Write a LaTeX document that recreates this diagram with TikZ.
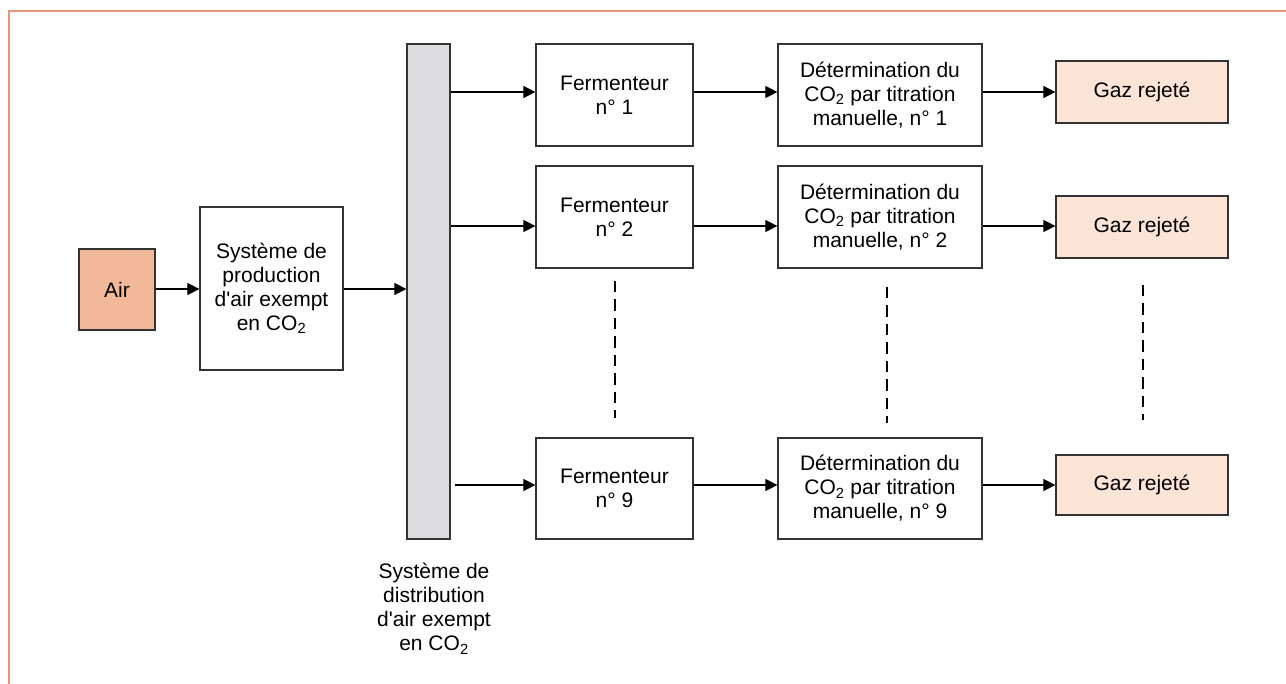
\documentclass[tikz,border=0pt]{standalone}
\usepackage{fontspec}
\setmainfont[Ligatures=TeXOff]{Liberation Sans}
\usetikzlibrary{arrows.meta}
\definecolor{frameC}{HTML}{E9967C}
\definecolor{airC}{HTML}{F2B89A}
\definecolor{gazC}{HTML}{FCE4D6}
\definecolor{barC}{HTML}{DCDCDE}
\definecolor{lineC}{HTML}{333333}
\tikzset{
  box/.style={draw=lineC, line width=1.2pt, fill=white, align=center, inner sep=0pt,
    font=\fontsize{21}{24}\selectfont},
  arr/.style={draw=black, line width=1.1pt, -{Triangle[length=12pt,width=12pt]}},
  dots/.style={draw=black, line width=2pt, dash pattern=on 11.5pt off 7pt},
  frame/.style={draw=frameC, line width=1.6pt}
}
\begin{document}
\begin{tikzpicture}[x=1pt,y=-1pt]
\useasboundingbox (0,0) rectangle (1286,684);
\fill[white] (0,0) rectangle (1286,684);
% frame
\coordinate (fa) at (9,684);
\coordinate (fb) at (9,11);
\coordinate (fc) at (1286,11);
\draw[frame] (fa) -- (fb) -- (fc);

% rows
\coordinate (r1) at (0,92);
\coordinate (r2) at (0,226);
\coordinate (r3) at (0,485);
\coordinate (r0) at (0,289);

% left part
\node[box, fill=airC, minimum width=76pt, minimum height=81pt] (air) at (117,289.5) {Air};
\node[box, minimum width=143pt, minimum height=163pt] (sys) at (271.5,288.5)
  {Système de\\production\\d'air exempt\\en CO\textsubscript{2}};
\node[draw=lineC, line width=1.2pt, fill=barC, minimum width=43pt, minimum height=495pt, inner sep=0pt] (bar) at (428.5,291.5) {};
\node[align=center, font=\fontsize{21}{24}\selectfont, anchor=north] (barlbl) at (434,560)
  {Système de\\distribution\\d'air exempt\\en CO\textsubscript{2}};

\draw[arr] (air.east |- r0) -- (sys.west |- r0);
\draw[arr] (sys.east |- r0) -- (bar.west |- r0);

% fermenters
\node[box, minimum width=157pt, minimum height=102pt] (f1) at (614.5,95) {Fermenteur\\n° 1};
\node[box, minimum width=157pt, minimum height=102pt] (f2) at (614.5,217) {Fermenteur\\n° 2};
\node[box, minimum width=157pt, minimum height=101pt] (f9) at (614.5,488.5) {Fermenteur\\n° 9};

\node[box, minimum width=204pt, minimum height=102pt] (d1) at (880,95)
  {Détermination du\\CO\textsubscript{2} par titration\\manuelle, n° 1};
\node[box, minimum width=204pt, minimum height=102pt] (d2) at (880,217)
  {Détermination du\\CO\textsubscript{2} par titration\\manuelle, n° 2};
\node[box, minimum width=204pt, minimum height=101pt] (d9) at (880,488.5)
  {Détermination du\\CO\textsubscript{2} par titration\\manuelle, n° 9};

\node[box, fill=gazC, minimum width=172pt, minimum height=62pt] (g1) at (1142,92) {Gaz rejeté};
\node[box, fill=gazC, minimum width=172pt, minimum height=62pt] (g2) at (1142,227) {Gaz rejeté};
\node[box, fill=gazC, minimum width=172pt, minimum height=60pt] (g9) at (1142,485) {Gaz rejeté};

% arrows
\draw[arr] (bar.east |- r1) -- (f1.west |- r1);
\draw[arr] (bar.east |- r2) -- (f2.west |- r2);
\draw[arr] ([xshift=4pt]bar.east |- r3) -- (f9.west |- r3);
\draw[arr] (f1.east |- r1) -- (d1.west |- r1);
\draw[arr] (f2.east |- r2) -- (d2.west |- r2);
\draw[arr] (f9.east |- r3) -- (d9.west |- r3);
\draw[arr] (d1.east |- r1) -- (g1.west |- r1);
\draw[arr] (d2.east |- r2) -- (g2.west |- r2);
\draw[arr] (d9.east |- r3) -- (g9.west |- r3);

% dashed continuation
\coordinate (da1) at (615,281);  \coordinate (db1) at (615,418);
\coordinate (da2) at (887,287);  \coordinate (db2) at (887,423);
\coordinate (da3) at (1143,285); \coordinate (db3) at (1143,420);
\draw[dots] (da1) -- (db1);
\draw[dots] (da2) -- (db2);
\draw[dots] (da3) -- (db3);
\end{tikzpicture}
\end{document}
